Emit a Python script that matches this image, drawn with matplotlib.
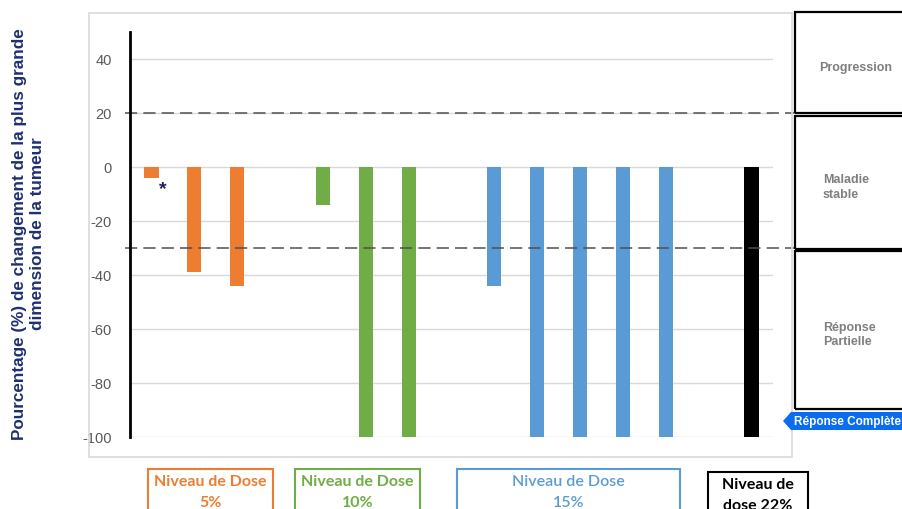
import matplotlib.pyplot as plt
from matplotlib.patches import Rectangle, Polygon

# data
positions = [0, 1, 2, 4, 5, 6, 8, 9, 10, 11, 12, 14]
changes = [-4, -39, -44, -14, -100, -100, -44, -100, -100, -100, -100, -100]
groups = ['5%', '5%', '5%', '10%', '10%', '10%',
          '15%', '15%', '15%', '15%', '15%', '22%']
group_colors = {'5%': '#ED7D31', '10%': '#70AD47', '15%': '#5B9BD5', '22%': '#000000'}
y_ticks = [40, 20, 0, -20, -40, -60, -80, -100]
thresholds = [20, -30]

W, H = 902, 510


def fx(px):
    return px / W


def fy(py):
    return 1 - py / H


plt.rcParams['font.family'] = ['Liberation Sans', 'DejaVu Sans']
plt.rcParams['axes.unicode_minus'] = False
fig = plt.figure(figsize=(W / 100, H / 100), dpi=100)

ax = fig.add_axes([fx(130), fy(438), fx(773) - fx(130), fy(33) - fy(438)])

bar_colors = [group_colors[g] for g in groups]
ax.bar(positions, changes, width=0.33, color=bar_colors, zorder=3)

ax.set_xlim(-0.5, 14.5)
ax.set_ylim(-100, 50)
ax.set_yticks(y_ticks)
ax.set_xticks([])
for y in y_ticks:
    ax.axhline(y, color='#d9d9d9', lw=1, zorder=1)
for t in thresholds:
    ax.axhline(t, xmin=-0.008, xmax=1.034, color='#505050', lw=1.1,
               dashes=(8, 4), clip_on=False, zorder=4)

for s in ['top', 'right', 'bottom']:
    ax.spines[s].set_visible(False)
ax.spines['left'].set_linewidth(2)
ax.spines['left'].set_color('black')
ax.spines['left'].set_zorder(5)
ax.tick_params(axis='y', length=0, pad=13, labelsize=10.5, labelcolor='#595959')

ax.text(positions[0] + 0.27, changes[0] - 1, '*', color='#1f1f5f', fontsize=14,
        fontweight='bold', ha='center', va='top')

fig.text(fx(29), fy(234),
         'Pourcentage (%) de changement de la plus grande\ndimension de la tumeur',
         rotation=90, ha='center', va='center', fontsize=12.3, fontweight='bold',
         color='#1f3070', linespacing=1.25)

# outer chart frame
fig.add_artist(Rectangle((fx(89), fy(458)), fx(792) - fx(89), fy(14) - fy(458),
                         transform=fig.transFigure, fill=False, ec='#d9d9d9', lw=1.2))

# response category boxes on the right
boxes = [(13, 114, 'Progression'), (117, 250, 'Maladie\nstable'), (252, 410, 'Réponse\nPartielle')]
for top, bot, label in boxes:
    fig.add_artist(Rectangle((fx(795), fy(bot)), fx(920) - fx(795), fy(top) - fy(bot),
                             transform=fig.transFigure, fill=False, ec='black', lw=1.6))
    if label == 'Progression':
        fig.text(fx(856), fy((top + bot) / 2 + 5), label, ha='center', va='center',
                 fontsize=9, fontweight='bold', color='#7f7f7f')
    else:
        fig.text(fx(823), fy((top + bot) / 2 + 4), label, ha='left', va='center',
                 fontsize=9, fontweight='bold', color='#7f7f7f', linespacing=1.3)

fig.add_artist(Polygon([(fx(783), fy(422)), (fx(791), fy(413)), (fx(902), fy(413)),
                        (fx(902), fy(431)), (fx(791), fy(431))],
                       closed=True, transform=fig.transFigure, fc='#0a6cf0', ec='none'))
fig.text(fx(794), fy(422), 'Réponse Complète', ha='left', va='center',
         fontsize=8.5, fontweight='bold', color='white')

# dose group boxes below
dose_boxes = [(148, 273, 470, 'Niveau de Dose\n5%', '#ED7D31', 'bold'),
              (295, 420, 470, 'Niveau de Dose\n10%', '#70AD47', 'bold'),
              (457, 680, 470, 'Niveau de Dose\n15%', '#5B9BD5', 'semibold'),
              (708, 808, 473, 'Niveau de\ndose 22%', '#000000', 'bold')]
for left, right, top, label, col, wt in dose_boxes:
    fig.add_artist(Rectangle((fx(left), fy(530)), fx(right) - fx(left), fy(top) - fy(530),
                             transform=fig.transFigure, fill=False, ec=col, lw=1.5))
    fig.text(fx((left + right) / 2), fy(top + 5), label, ha='center', va='top',
             fontsize=11.5, fontweight=wt, color=col, family=['Lato', 'DejaVu Sans'],
             linespacing=1.65)

fig.savefig('out.png', dpi=100)
